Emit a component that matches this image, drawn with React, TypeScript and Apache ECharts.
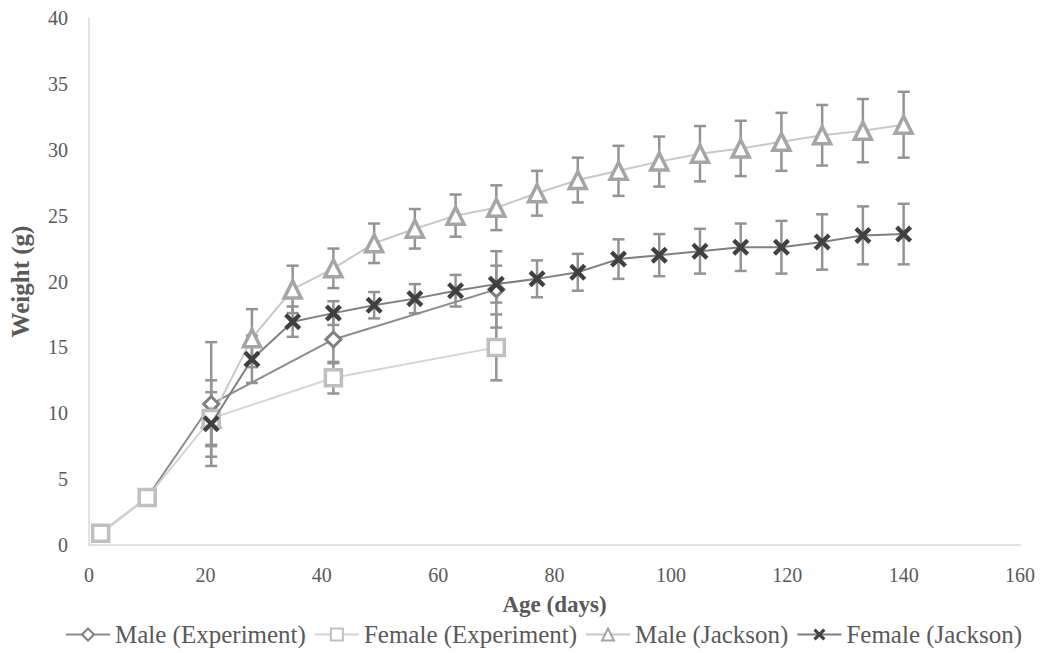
import React, { useEffect, useRef } from "react";
import * as echarts from "echarts";

const expAges = [2, 10, 21, 42, 70];
const maleExpMean = [0.9, 3.6, 10.7, 15.6, 19.4];
const maleExpSd = [0, 0, 4.7, 1.8, 2.9];
const femaleExpMean = [0.9, 3.6, 9.6, 12.7, 15.0];
const femaleExpSd = [0, 0, 2.9, 1.2, 2.5];

const jacksonAges = [21, 28, 35, 42, 49, 56, 63, 70, 77, 84, 91, 98, 105, 112, 119, 126, 133, 140];
const maleJackMean = [9.6, 15.7, 19.4, 21.0, 22.9, 24.0, 25.0, 25.6, 26.7, 27.7, 28.4, 29.1, 29.7, 30.1, 30.6, 31.1, 31.45, 31.9];
const maleJackSd = [2.0, 2.2, 1.8, 1.5, 1.5, 1.5, 1.6, 1.7, 1.7, 1.7, 1.9, 1.9, 2.1, 2.1, 2.2, 2.3, 2.4, 2.5];
const femaleJackMean = [9.2, 14.1, 16.95, 17.6, 18.2, 18.7, 19.3, 19.8, 20.2, 20.7, 21.7, 22.0, 22.3, 22.6, 22.6, 23.0, 23.5, 23.6];
const femaleJackSd = [1.7, 1.8, 1.15, 0.9, 1.0, 1.1, 1.2, 1.4, 1.4, 1.4, 1.5, 1.6, 1.7, 1.8, 2.0, 2.1, 2.2, 2.3];

const seriesNames = ["Male (Experiment)", "Female (Experiment)", "Male (Jackson)", "Female (Jackson)"];

const FONT = "Liberation Serif, Times New Roman, serif";
const TEXT = "#595959";
const ERR = "#939393";
const X_PATH =
  "path://M0,1.8 L1.8,0 L5,3.2 L8.2,0 L10,1.8 L6.8,5 L10,8.2 L8.2,10 L5,6.8 L1.8,10 L0,8.2 L3.2,5 Z";

function pts(xs: number[], ys: number[]) {
  return xs.map((x, i) => [x, ys[i]]);
}
function errPts(xs: number[], ys: number[], sd: number[]) {
  return xs.map((x, i) => [x, ys[i], sd[i]]);
}

function errorSeries(name: string, data: number[][]) {
  return {
    name: name + " err",
    type: "custom",
    z: 1,
    silent: true,
    encode: { x: 0, y: 1 },
    data,
    renderItem: (params: any, api: any) => {
      const x = api.value(0);
      const y = api.value(1);
      const sd = api.value(2);
      if (!sd) return null;
      const top = api.coord([x, y + sd]);
      const bot = api.coord([x, y - sd]);
      const half = 6;
      const style = { stroke: ERR, lineWidth: 2.5 };
      return {
        type: "group",
        children: [
          { type: "line", shape: { x1: top[0], y1: top[1], x2: bot[0], y2: bot[1] }, style },
          { type: "line", shape: { x1: top[0] - half, y1: top[1], x2: top[0] + half, y2: top[1] }, style },
          { type: "line", shape: { x1: bot[0] - half, y1: bot[1], x2: bot[0] + half, y2: bot[1] }, style },
        ],
      };
    },
  };
}

export default function App() {
  const ref = useRef<HTMLDivElement>(null);
  useEffect(() => {
    if (!ref.current) return;
    const chart = echarts.init(ref.current, undefined, { renderer: "svg" });
    chart.setOption({
      animation: false,
      backgroundColor: "#ffffff",
      textStyle: { fontFamily: FONT },
      grid: { left: 86, right: 32, top: 18, bottom: 108 },
      xAxis: {
        type: "value",
        min: 0,
        max: 160,
        interval: 20,
        name: "Age (days)",
        nameLocation: "middle",
        nameGap: 48,
        nameTextStyle: { fontFamily: FONT, fontSize: 23, fontWeight: "bold", color: TEXT },
        axisLine: { show: true, lineStyle: { color: "#d9d9d9", width: 1.5 } },
        axisTick: { show: false },
        splitLine: { show: false },
        axisLabel: { fontFamily: FONT, fontSize: 20, color: TEXT, margin: 20 },
      },
      yAxis: {
        type: "value",
        min: 0,
        max: 40,
        interval: 5,
        name: "Weight (g)",
        nameLocation: "middle",
        nameRotate: 90,
        nameGap: 56,
        nameTextStyle: { fontFamily: FONT, fontSize: 25, fontWeight: "bold", color: TEXT },
        axisLine: { show: true, lineStyle: { color: "#d9d9d9", width: 1.5 } },
        axisTick: { show: false },
        splitLine: { show: false },
        axisLabel: { fontFamily: FONT, fontSize: 20, color: TEXT, margin: 21 },
      },
      legend: {
        data: seriesNames,
        bottom: 1,
        left: 60,
        itemWidth: 44,
        itemHeight: 15,
        itemGap: 8,
        textStyle: { fontFamily: FONT, fontSize: 25, color: TEXT },
      },
      series: [
        errorSeries(seriesNames[0], errPts(expAges, maleExpMean, maleExpSd)),
        errorSeries(seriesNames[1], errPts(expAges, femaleExpMean, femaleExpSd)),
        errorSeries(seriesNames[2], errPts(jacksonAges, maleJackMean, maleJackSd)),
        errorSeries(seriesNames[3], errPts(jacksonAges, femaleJackMean, femaleJackSd)),
        {
          name: seriesNames[0],
          type: "line",
          z: 3,
          data: pts(expAges, maleExpMean),
          symbol: "diamond",
          symbolSize: 15,
          showAllSymbol: true,
          lineStyle: { color: "#8c8c8c", width: 2 },
          itemStyle: { color: "#ffffff", borderColor: "#7f7f7f", borderWidth: 3 },
        },
        {
          name: seriesNames[1],
          type: "line",
          z: 4,
          data: pts(expAges, femaleExpMean),
          symbol: "rect",
          symbolSize: 16,
          showAllSymbol: true,
          lineStyle: { color: "#d4d4d4", width: 2 },
          itemStyle: { color: "#ffffff", borderColor: "#bfbfbf", borderWidth: 3.5 },
        },
        {
          name: seriesNames[2],
          type: "line",
          z: 3,
          data: pts(jacksonAges, maleJackMean),
          symbol: "triangle",
          symbolSize: 17,
          showAllSymbol: true,
          lineStyle: { color: "#c8c8c8", width: 2 },
          itemStyle: { color: "#ffffff", borderColor: "#a5a5a5", borderWidth: 3.5 },
        },
        {
          name: seriesNames[3],
          type: "line",
          z: 5,
          data: pts(jacksonAges, femaleJackMean),
          symbol: X_PATH,
          symbolSize: 17,
          showAllSymbol: true,
          lineStyle: { color: "#7f7f7f", width: 2 },
          itemStyle: { color: "#404040" },
        },
      ],
    });
    return () => chart.dispose();
  }, []);
  return (
    <div
      ref={ref}
      style={{ position: "absolute", left: 0, top: 0, width: 1052, height: 653, background: "#fff" }}
    />
  );
}
